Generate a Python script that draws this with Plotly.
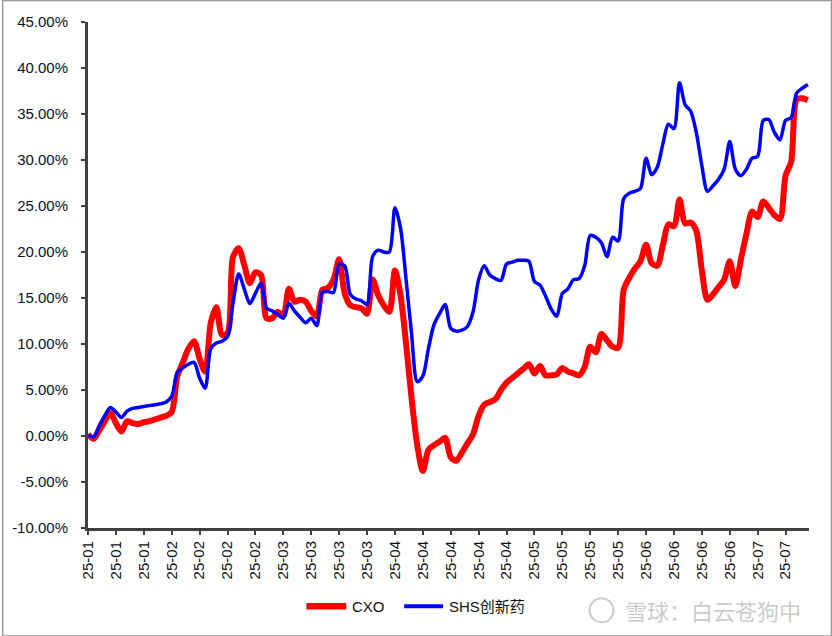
import plotly.graph_objects as go

tick_labels = ["25-01", "25-01", "25-01", "25-02", "25-02", "25-02", "25-02",
               "25-03", "25-03", "25-03", "25-03", "25-04", "25-04", "25-04",
               "25-04", "25-04", "25-05", "25-05", "25-05", "25-05", "25-06",
               "25-06", "25-06", "25-06", "25-07", "25-07"]

cxo = [0.2, -0.3, 0.6, 1.6, 2.5, 1.4, 0.5, 1.6, 1.4, 1.3,
       1.5, 1.6, 1.8, 2.0, 2.2, 2.6, 6.5, 8.0, 9.5, 10.3,
       8.4, 7.0, 12.3, 14.0, 11.0, 11.2, 19.5, 20.4, 18.6, 16.6,
       17.8, 17.5, 12.8, 12.8, 13.5, 13.1, 16.0, 14.6, 14.8, 14.6,
       13.6, 13.0, 15.9, 16.1, 17.0, 19.2, 15.5, 14.2, 14.0, 13.9,
       13.3, 17.0, 15.3, 14.2, 13.5, 18.0, 15.3, 10.0, 4.0, -1.0,
       -3.8, -1.5, -1.0, -0.6, -0.2, -2.3, -2.7, -1.8, -0.8, 0.2,
       2.2, 3.4, 3.7, 4.0, 5.0, 5.8, 6.3, 6.8, 7.3, 7.8,
       6.8, 7.6, 6.6, 6.6, 6.7, 7.4, 7.0, 6.8, 6.6, 7.5,
       9.7, 9.1, 11.1, 10.4, 9.7, 9.6, 15.9, 17.2, 18.2, 19.0,
       20.8, 18.8, 18.5, 20.7, 23.0, 22.8, 25.7, 23.1, 23.2, 22.3,
       18.0, 14.8, 15.4, 16.2, 17.0, 19.0, 16.3, 19.2, 22.0, 24.4,
       23.8, 25.5, 24.8, 24.0, 23.6, 28.3, 29.8, 36.6, 36.7, 36.5]

shs = [0.1, -0.1, 1.1, 2.2, 3.1, 2.6, 2.0, 2.7, 3.0, 3.1,
       3.2, 3.3, 3.4, 3.5, 3.7, 4.3, 6.9, 7.4, 7.8, 8.0,
       6.3, 5.2, 9.5, 10.1, 10.3, 10.8, 14.5, 17.6, 16.0, 14.4,
       15.5, 16.6, 13.9, 13.6, 13.2, 12.8, 14.4, 13.6, 12.9, 12.3,
       12.8, 12.0, 15.6, 15.7, 15.6, 18.7, 18.5, 15.4, 14.9, 14.7,
       14.3, 19.5, 20.2, 20.0, 20.0, 24.8, 22.6, 17.0, 11.0, 5.9,
       6.5, 9.5, 12.1, 13.3, 14.3, 11.7, 11.4, 11.5, 11.9, 13.5,
       17.0, 18.5, 17.5, 17.1, 16.9, 18.7, 18.9, 19.1, 19.1, 19.0,
       16.8, 16.4, 15.2, 13.8, 13.0, 15.5, 16.0, 17.0, 17.1, 18.5,
       21.8, 21.6, 21.0, 19.5, 21.6, 21.2, 25.8, 26.4, 26.6, 26.9,
       30.2, 28.4, 29.2, 31.7, 33.9, 33.4, 38.4, 36.0, 35.3, 33.0,
       29.4, 26.6, 27.2, 27.9, 29.0, 32.0, 29.0, 28.3, 29.0, 30.2,
       30.4, 34.3, 34.4, 33.0, 32.2, 34.3, 34.6, 37.3, 37.8, 38.2]

y_ticks = [-10, -5, 0, 5, 10, 15, 20, 25, 30, 35, 40, 45]
y_tick_text = ["-10.00%", "-5.00%", "0.00%", "5.00%", "10.00%", "15.00%",
               "20.00%", "25.00%", "30.00%", "35.00%", "40.00%", "45.00%"]

series_names = ["CXO", "SHS创新药"]
series_colors = ["#FF0000", "#0000FF"]
series_widths = [6, 3.5]

x = list(range(len(cxo)))
FONT = "Arial, Liberation Sans, Noto Sans CJK SC, sans-serif"

fig = go.Figure()
for name, vals, col, w in zip(series_names, [cxo, shs], series_colors, series_widths):
    fig.add_trace(go.Scatter(x=x, y=vals, mode="lines", name=name, showlegend=False,
                             line=dict(color=col, width=w, shape="spline", smoothing=0.8)))

axis_col = "#404040"
fig.update_xaxes(range=[0, 129.2], tickmode="array",
                 tickvals=[5 * k for k in range(len(tick_labels))], ticktext=tick_labels,
                 tickangle=-90, ticks="outside", ticklen=4, tickwidth=2, tickcolor=axis_col,
                 showline=True, linewidth=3, linecolor=axis_col, showgrid=False, zeroline=False,
                 tickfont=dict(family=FONT, size=15, color="#111"))
fig.update_yaxes(range=[-10, 45], tickmode="array", tickvals=y_ticks, ticktext=y_tick_text,
                 ticks="outside", ticklen=4, tickwidth=2, tickcolor=axis_col,
                 showline=True, linewidth=3, linecolor=axis_col, showgrid=False, zeroline=False,
                 ticklabelstandoff=10,
                 tickfont=dict(family=FONT, size=15, color="#111"))

# outer frame
fig.add_shape(type="rect", xref="paper", yref="paper",
              x0=-0.1183, x1=1.0311, y0=-0.2132, y1=1.0425,
              line=dict(color="#999999", width=1.5), layer="below")

# legend (drawn like the original: 40px line samples)
leg_y = -0.1548
leg_items = [(0.3029, 0.3582, 0.3638), (0.4385, 0.4924, 0.4979)]
for (x0, x1, xt), name, col, w in zip(leg_items, series_names, series_colors, series_widths):
    fig.add_shape(type="line", xref="paper", yref="paper", x0=x0, x1=x1, y0=leg_y, y1=leg_y,
                  line=dict(color=col, width=w + 0.5))
    fig.add_annotation(xref="paper", yref="paper", x=xt, y=leg_y, xanchor="left", yanchor="middle",
                       text=name, showarrow=False, font=dict(family=FONT, size=15, color="#111"))

# watermark
fig.add_annotation(xref="paper", yref="paper", x=0.7414, y=-0.1627, xanchor="left", yanchor="middle",
                   text="雪球：白云苍狗中", showarrow=False,
                   font=dict(family="Noto Sans CJK SC", size=22, color="rgba(150,150,150,0.5)"))
fig.add_shape(type="circle", xref="paper", yref="paper",
              x0=0.6957, x1=0.7289, y0=-0.1865, y1=-0.139,
              line=dict(color="rgba(150,150,150,0.5)", width=2))

fig.update_layout(
    width=832, height=636,
    margin=dict(l=86, r=23, t=22, b=108),
    paper_bgcolor="white", plot_bgcolor="white",
    showlegend=False,
)

fig.write_html("out.html", config={"displayModeBar": False},
               post_script="document.body.style.margin='0';document.body.style.overflow='hidden';")
